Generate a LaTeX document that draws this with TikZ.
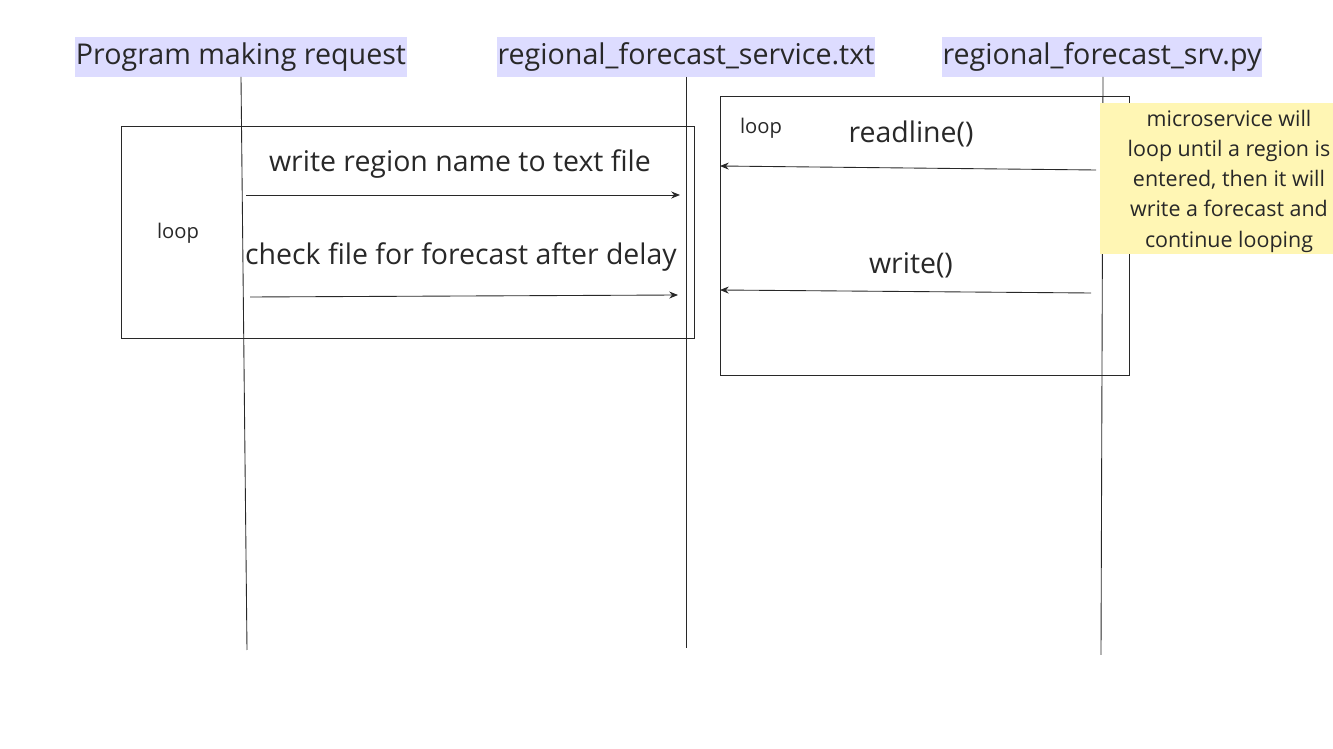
\documentclass[tikz,border=0pt]{standalone}
\usepackage{fontspec}
\setmainfont{Open Sans}
\usetikzlibrary{positioning}
\usetikzlibrary{arrows.meta}
\definecolor{headfill}{RGB}{221,220,255}
\definecolor{notefill}{RGB}{255,246,180}
\definecolor{inkgray}{RGB}{40,40,40}

\begin{document}
\begin{tikzpicture}[x=0.02cm, y=-0.02cm,
	every node/.style={text=inkgray},
	header/.style={fill=headfill, inner xsep=0.5pt, inner ysep=3pt, font=\fontsize{16.3}{19}\selectfont},
	msg/.style={font=\fontsize{16.2}{19}\selectfont},
	looplabel/.style={font=\fontsize{11.5}{14}\selectfont},
	loopbox/.style={draw=inkgray, line width=0.5pt},
	lifeline/.style={draw=inkgray, line width=0.5pt},
	call/.style={draw=inkgray, line width=0.5pt, -{Stealth[length=5pt,width=4pt]}},
	notebox/.style={fill=notefill, inner sep=0pt, minimum width=233*0.02cm, minimum height=151*0.02cm},
	notetext/.style={align=center, font=\fontsize{12.2}{17.2}\selectfont}]

\useasboundingbox (0,0) rectangle (1333,749);

% participants
\node[header] (prog) at (241,57) {Program making request};
\node[header] (txt) at (686,57) {regional\_forecast\_service.txt};
\node[header] (srv) at (1102,57) {regional\_forecast\_srv.py};

% lifelines
\coordinate (progend) at (247,650);
\coordinate (txtend) at (686,648);
\coordinate (srvend) at (1101,655);
\draw[lifeline] (241,77) -- (progend);
\draw[lifeline] (686,77) -- (txtend);
\draw[lifeline] (1103,77) -- (srvend);

% first loop
\draw[loopbox] (121,126) rectangle (694,338);
\node[looplabel] (loopa) at (178,233) {loop};
\node[msg] (writemsg) at (460,164) {write region name to text file};
\coordinate (wa) at (246,195);
\coordinate (wb) at (680,195);
\draw[call] (wa) -- (wb);
\node[msg] (checkmsg) at (461,257) {check file for forecast after delay};
\coordinate (ca) at (250,297);
\coordinate (cb) at (678,295);
\draw[call] (ca) -- (cb);

% second loop
\draw[loopbox] (720,96) rectangle (1129,375);
\node[looplabel] (loopb) at (761,128) {loop};
\node[msg] (readmsg) at (911,134) {readline()};
\coordinate (ra) at (1096,170);
\coordinate (rb) at (720,166);
\draw[call] (ra) -- (rb);
\node[msg] (wrmsg) at (911,265) {write()};
\coordinate (xa) at (1091,293);
\coordinate (xb) at (720,290);
\draw[call] (xa) -- (xb);

% note
\node[notebox, anchor=north west] (note) at (1100,103) {};
\node[notetext] (notetxt) at (1229,181) {microservice will\\loop until a region is\\entered, then it will\\write a forecast and\\continue looping};
\end{tikzpicture}
\end{document}
